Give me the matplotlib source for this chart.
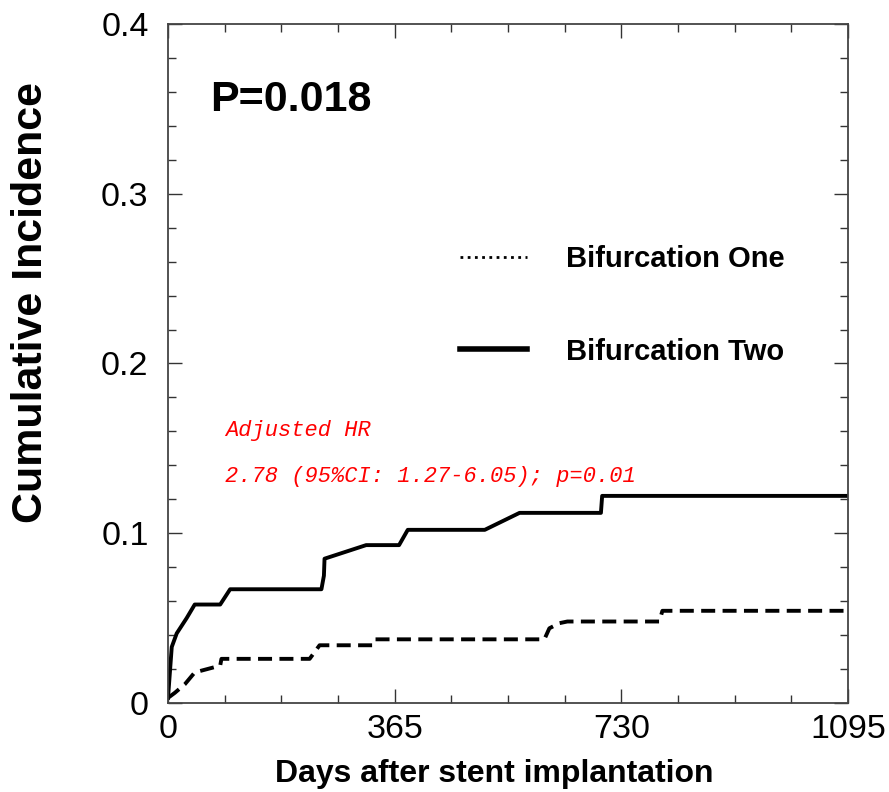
import matplotlib
matplotlib.use("Agg")
import matplotlib.pyplot as plt
from matplotlib.lines import Line2D
from matplotlib.ticker import MultipleLocator

# cumulative incidence curves (days, incidence)
two_days = [0, 6, 14, 30, 43, 84, 100, 247, 251, 252, 319, 372, 386, 510, 566, 697, 699, 1095]
two_inc = [0.003, 0.033, 0.041, 0.050, 0.058, 0.058, 0.067, 0.067, 0.075, 0.085,
           0.093, 0.093, 0.102, 0.102, 0.112, 0.112, 0.122, 0.122]

one_days = [0, 11, 27, 43, 84, 86, 228, 244, 330, 334, 606, 614, 630, 643, 791, 796, 1095]
one_inc = [0.003, 0.006, 0.011, 0.018, 0.022, 0.026, 0.026, 0.034, 0.034, 0.0375,
           0.0375, 0.044, 0.047, 0.048, 0.048, 0.0543, 0.0543]

x_ticks = [0, 365, 730, 1095]
y_ticks = [0, 0.1, 0.2, 0.3, 0.4]
y_tick_labels = ["0", "0.1", "0.2", "0.3", "0.4"]

plt.rcParams["font.family"] = ["Liberation Sans", "DejaVu Sans"]

fig = plt.figure(figsize=(8.89, 7.92), dpi=100)
ax = fig.add_axes([0.189, 0.1124, 0.765, 0.8573])

ax.plot(one_days, one_inc, color="black", lw=2.8, linestyle=(0, (3.6, 1.9)),
        dash_capstyle="butt")
ax.plot(two_days, two_inc, color="black", lw=2.8)

ax.set_xlim(0, 1095)
ax.set_ylim(0, 0.4)
ax.set_xticks(x_ticks)
ax.set_yticks(y_ticks)
ax.set_yticklabels(y_tick_labels)
ax.xaxis.set_minor_locator(MultipleLocator(365 / 4))
ax.yaxis.set_minor_locator(MultipleLocator(0.02))
ax.tick_params(which="both", direction="in", top=True, right=True,
               color="#333333", width=1.0)
ax.tick_params(which="major", length=10, labelsize=24.5)
ax.tick_params(axis="y", which="major", pad=14)
ax.tick_params(axis="x", which="major", pad=8)
ax.tick_params(which="minor", length=6)
for s in ax.spines.values():
    s.set_color("#444444")
    s.set_linewidth(1.3)

ax.set_xlabel("Days after stent implantation", fontsize=23, fontweight="bold")
ax.xaxis.set_label_coords(0.479, -0.083)
ax.set_ylabel("Cumulative Incidence", fontsize=31, fontweight="bold")
ax.yaxis.set_label_coords(-0.172, 0.59)

ax.text(0.062, 0.888, "P=0.018", transform=ax.transAxes, fontsize=31,
        fontweight="bold", va="center", ha="left")

red_font = dict(family=["Liberation Mono", "DejaVu Sans Mono"], style="italic",
                color="red", fontsize=15.8, transform=ax.transAxes, va="center")
ax.text(0.084, 0.402, "Adjusted HR", **red_font)
ax.text(0.084, 0.334, "2.78 (95%CI: 1.27-6.05); p=0.01", **red_font)

handles = [Line2D([], [], color="black", lw=2.0, linestyle=(0, (1.0, 1.6))),
           Line2D([], [], color="black", lw=4.0)]
ax.legend(handles, ["Bifurcation One", "Bifurcation Two"], loc="upper left",
          bbox_to_anchor=(0.429, 0.674), frameon=False, borderpad=0,
          borderaxespad=0, handlelength=2.3, handletextpad=1.35,
          labelspacing=2.2, prop=dict(weight="bold", size=21))

fig.savefig("out.png", dpi=100)
